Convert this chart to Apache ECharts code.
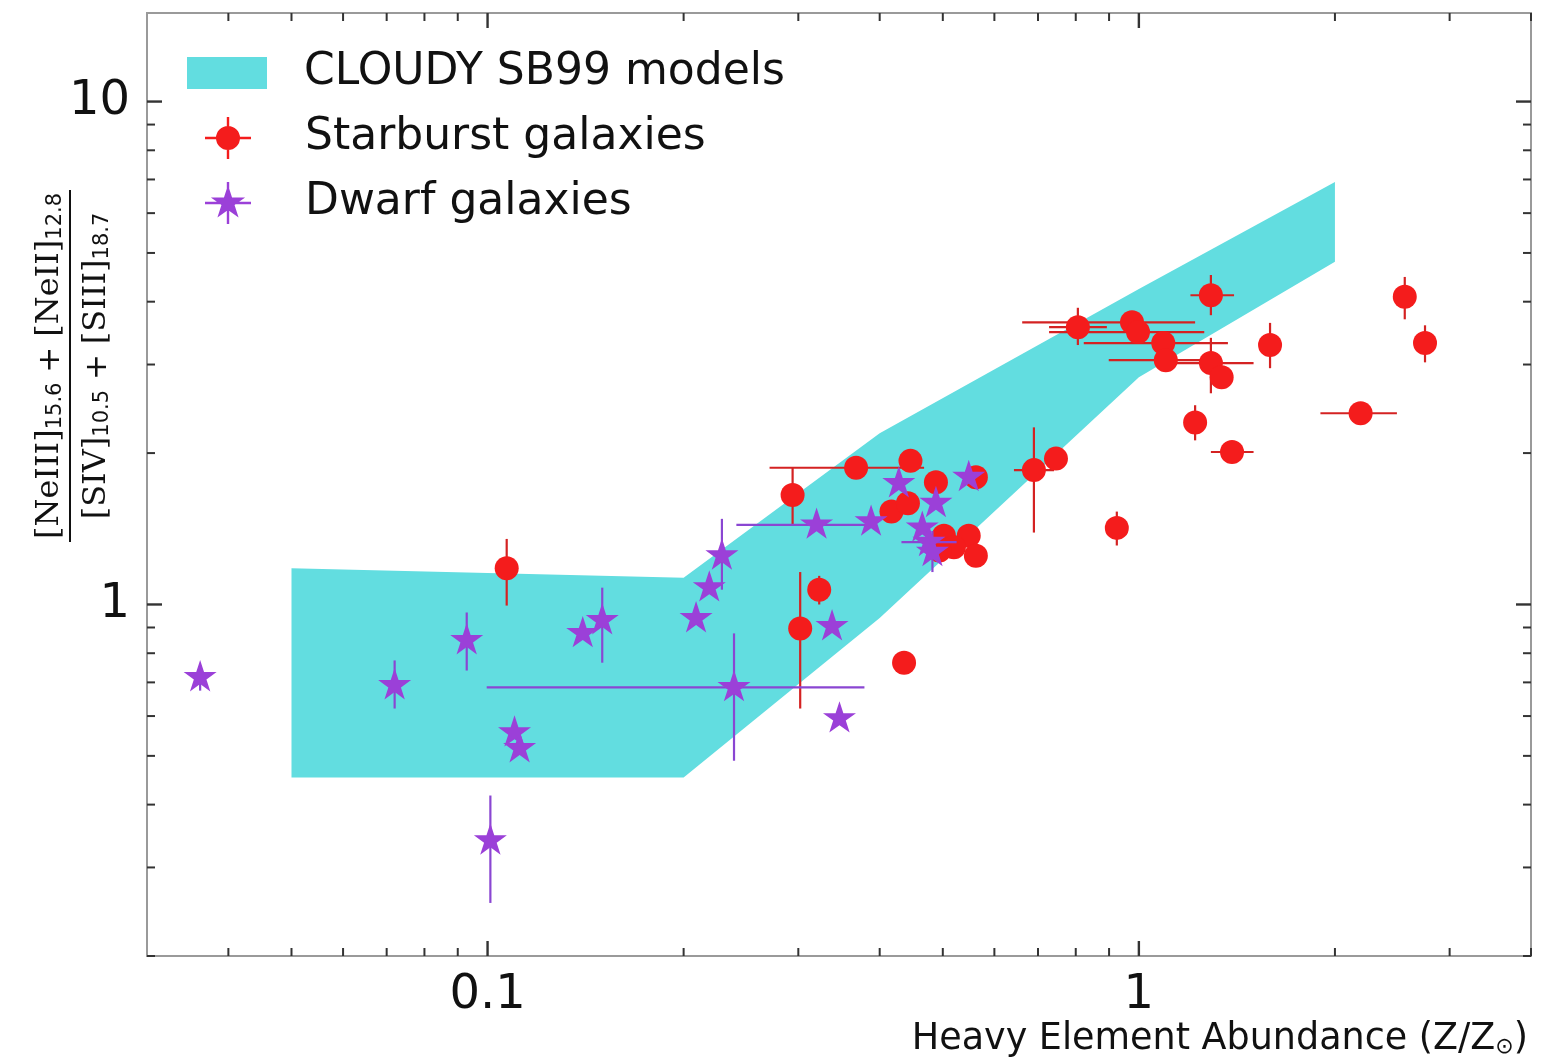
<!DOCTYPE html>
<html>
<head>
<meta charset="utf-8">
<title>[NeIII]+[NeII] / [SIV]+[SIII] vs heavy element abundance</title>
<script src="https://cdn.jsdelivr.net/npm/echarts@6/dist/echarts.min.js"></script>
<style>
  html, body { margin: 0; padding: 0; background: #ffffff; }
  #chart { width: 1554px; height: 1057px; }
</style>
</head>
<body>
<div id="chart"></div>
<script>
// Axis ranges (both axes logarithmic)
const X_MIN = 0.03, X_MAX = 4;
const Y_MIN = 0.2, Y_MAX = 15;

// CLOUDY SB99 model envelope: metallicity grid with upper / lower ratio bounds
const bandX     = [0.05, 0.2, 0.4, 1, 2];
const bandUpper = [1.18, 1.13, 2.19, 4.24, 6.92];
const bandLower = [0.453, 0.453, 0.94, 2.83, 4.80];

// Starburst galaxies: [Z/Zsun, ratio, xLow, xHigh, yLow, yHigh]
const starburst = [
  [0.107, 1.18, null, null, 0.995, 1.35],
  [0.294, 1.65, null, null, 1.44, 1.87],
  [0.368, 1.87, 0.271, 0.468, null, null],
  [0.446, 1.93, null, null, null, null],
  [0.488, 1.75, null, null, null, null],
  [0.562, 1.79, null, null, null, null],
  [0.417, 1.53, null, null, null, null],
  [0.442, 1.59, null, null, null, null],
  [0.323, 1.07, null, null, 1.00, 1.14],
  [0.302, 0.896, null, null, 0.621, 1.16],
  [0.436, 0.766, null, null, null, null],
  [0.690, 1.85, 0.643, 0.741, 1.39, 2.25],
  [0.746, 1.95, null, null, null, null],
  [0.502, 1.37, null, null, null, null],
  [0.548, 1.37, null, null, null, null],
  [0.520, 1.30, null, null, null, null],
  [0.562, 1.25, null, null, null, null],
  [0.494, 1.28, null, null, null, null],
  [0.925, 1.42, null, null, 1.31, 1.53],
  [0.806, 3.56, 0.728, 0.893, 3.28, 3.89],
  [0.976, 3.64, 0.662, 1.22, null, null],
  [0.997, 3.48, 0.728, 1.26, null, null],
  [1.09, 3.31, 0.823, 1.37, null, null],
  [1.10, 3.06, 0.899, 1.33, null, null],
  [1.29, 4.12, 1.20, 1.40, 3.76, 4.52],
  [1.29, 3.02, 1.12, 1.50, 2.63, 3.39],
  [1.34, 2.83, null, null, null, null],
  [1.22, 2.30, null, null, 2.12, 2.49],
  [1.39, 2.01, 1.29, 1.50, null, null],
  [1.59, 3.28, null, null, 2.95, 3.63],
  [2.19, 2.40, 1.90, 2.49, null, null],
  [2.56, 4.09, null, null, 3.69, 4.48],
  [2.75, 3.31, null, null, 3.03, 3.59]
];

// Dwarf galaxies: [Z/Zsun, ratio, xLow, xHigh, yLow, yHigh]
const dwarf = [
  [0.0362, 0.716, null, null, 0.674, 0.756],
  [0.072, 0.690, null, null, 0.621, 0.774],
  [0.0929, 0.848, null, null, 0.739, 0.964],
  [0.140, 0.876, null, null, null, null],
  [0.150, 0.929, null, null, 0.766, 1.08],
  [0.110, 0.556, null, null, null, null],
  [0.112, 0.517, null, null, null, null],
  [0.101, 0.339, null, null, 0.255, 0.417],
  [0.209, 0.938, null, null, null, null],
  [0.219, 1.08, null, null, null, null],
  [0.229, 1.25, null, null, 1.07, 1.48],
  [0.239, 0.684, 0.0997, 0.379, 0.489, 0.876],
  [0.320, 1.44, 0.241, 0.390, null, null],
  [0.338, 0.904, null, null, null, null],
  [0.347, 0.593, null, null, null, null],
  [0.388, 1.46, null, null, null, null],
  [0.428, 1.74, null, null, null, null],
  [0.465, 1.42, null, null, null, null],
  [0.488, 1.59, null, null, null, null],
  [0.476, 1.33, 0.432, 0.525, null, null],
  [0.482, 1.27, null, null, 1.16, 1.40],
  [0.548, 1.79, null, null, null, null]
];

// Tick positions
const xMajorTicks = [0.1, 1];
const xMinorTicks = [0.04, 0.05, 0.06, 0.07, 0.08, 0.09, 0.2, 0.3, 0.4, 0.5, 0.6, 0.7, 0.8, 0.9, 2, 3, 4];
const yMajorTicks = [1, 10];
const yMinorTicks = [0.2, 0.3, 0.4, 0.5, 0.6, 0.7, 0.8, 0.9, 2, 3, 4, 5, 6, 7, 8, 9];

const BAND = '#62dde0';
const RED = '#f41c1c';
const RED_BAR = '#d42222';
const PURPLE = '#9b40d8';
const PURPLE_BAR = '#8a46d2';

const STAR_PATH = 'path://M0,-100L22.45,-30.9L95.11,-30.9L36.33,11.8L58.78,80.9L0,38.2L-58.78,80.9L-36.33,11.8L-95.11,-30.9L-22.45,-30.9Z';
const LEGEND_BAND = 'path://M0,0H80V32H0Z';
const LEGEND_CIRCLE = 'path://M-12,0A12,12 0 1,1 12,0A12,12 0 1,1 -12,0Z' +
  'M-23,-1.2H23V1.2H-23Z M-1.2,-21H1.2V21H-1.2Z';
const LEGEND_STAR = 'path://M0,-18L4.04,-5.56L17.12,-5.56L6.54,2.12L10.58,14.56L0,6.88L-10.58,14.56L-6.54,2.12L-17.12,-5.56L-4.04,-5.56Z' +
  'M-23,-1.2H23V1.2H-23Z M-1.2,-21H1.2V21H-1.2Z';

function decadeLabel(v) {
  const k = Math.log10(v);
  if (Math.abs(k - Math.round(k)) > 1e-6) return '';
  const e = Math.round(k);
  return e < 0 ? Math.pow(10, e).toFixed(-e) : String(Math.pow(10, e));
}

// Inward ticks on all four sides of the frame
function tickSeries(name, values, isX, len, width) {
  return {
    type: 'custom', name, silent: true, clip: false, z: 6,
    data: values.map(v => isX ? [v, Y_MIN] : [X_MIN, v]),
    renderItem(params, api) {
      const v = api.value(isX ? 0 : 1);
      const a = api.coord(isX ? [v, Y_MIN] : [X_MIN, v]);
      const b = api.coord(isX ? [v, Y_MAX] : [X_MAX, v]);
      const style = { stroke: '#333333', lineWidth: width };
      if (isX) {
        return { type: 'group', children: [
          { type: 'line', shape: { x1: a[0], y1: a[1], x2: a[0], y2: a[1] - len }, style },
          { type: 'line', shape: { x1: b[0], y1: b[1], x2: b[0], y2: b[1] + len }, style }
        ] };
      }
      return { type: 'group', children: [
        { type: 'line', shape: { x1: a[0], y1: a[1], x2: a[0] + len, y2: a[1] }, style },
        { type: 'line', shape: { x1: b[0], y1: b[1], x2: b[0] - len, y2: b[1] }, style }
      ] };
    }
  };
}

// Horizontal / vertical error bars (no caps)
function errorBarSeries(name, rows, color, z) {
  return {
    type: 'custom', name, silent: true, z,
    data: rows.map(r => [r[0], r[1]]),
    renderItem(params, api) {
      const r = rows[params.dataIndex];
      const style = { stroke: color, lineWidth: 2.2 };
      const children = [];
      if (r[2] != null) {
        const p1 = api.coord([r[2], r[1]]), p2 = api.coord([r[3], r[1]]);
        children.push({ type: 'line', shape: { x1: p1[0], y1: p1[1], x2: p2[0], y2: p2[1] }, style });
      }
      if (r[4] != null) {
        const p1 = api.coord([r[0], r[4]]), p2 = api.coord([r[0], r[5]]);
        children.push({ type: 'line', shape: { x1: p1[0], y1: p1[1], x2: p2[0], y2: p2[1] }, style });
      }
      return { type: 'group', children };
    }
  };
}

const legendText = { fontSize: 44, color: '#111111', fontFamily: 'DejaVu Sans' };
function legendFor(name, icon, h, left, top) {
  return {
    data: [{ name, icon }], selectedMode: false, orient: 'vertical',
    left, top, padding: 0, itemWidth: 144, itemHeight: h,
    textStyle: legendText
  };
}

const axisLabelStyle = { fontSize: 48, color: '#111111', fontFamily: 'DejaVu Sans', formatter: decadeLabel };
const subRich = {
  m: { fontSize: 32, fontFamily: 'DejaVu Serif', fill: '#111', lineHeight: 38, verticalAlign: 'bottom' },
  p: { fontSize: 31, fontFamily: 'DejaVu Sans', fill: '#111', lineHeight: 38, verticalAlign: 'bottom' },
  s: { fontSize: 21, fontFamily: 'DejaVu Sans', fill: '#111', lineHeight: 19, verticalAlign: 'bottom' }
};

const chart = echarts.init(document.getElementById('chart'), null, { renderer: 'canvas' });
chart.setOption({
  animation: false,
  backgroundColor: '#ffffff',
  grid: {
    left: 147, top: 13, right: 23, bottom: 101,
    containLabel: false, outerBoundsMode: 'none',
    show: true, borderColor: '#9a9a9a', borderWidth: 2, backgroundColor: 'transparent'
  },
  xAxis: {
    type: 'log', logBase: 10, min: X_MIN, max: X_MAX,
    axisLine: { show: false }, axisTick: { show: false },
    splitLine: { show: false }, minorTick: { show: false }, minorSplitLine: { show: false },
    axisLabel: Object.assign({ margin: 16 }, axisLabelStyle)
  },
  yAxis: {
    type: 'log', logBase: 10, min: Y_MIN, max: Y_MAX,
    axisLine: { show: false }, axisTick: { show: false },
    splitLine: { show: false }, minorTick: { show: false }, minorSplitLine: { show: false },
    axisLabel: Object.assign({ margin: 17 }, axisLabelStyle)
  },
  legend: [
    legendFor('CLOUDY SB99 models', LEGEND_BAND, 32, 187, 51),
    legendFor('Starburst galaxies', LEGEND_CIRCLE, 42, 205, 116),
    legendFor('Dwarf galaxies', LEGEND_STAR, 42, 205, 181)
  ],
  graphic: [
    {
      type: 'group', x: 70, y: 366, rotation: Math.PI / 2,
      children: [
        {
          type: 'text', x: 0, y: -4,
          style: {
            text: '{m|[NeIII]}{s|15.6}{p| + }{m|[NeII]}{s|12.8}',
            align: 'center', verticalAlign: 'bottom', rich: subRich
          }
        },
        { type: 'line', shape: { x1: -176, y1: 0, x2: 176, y2: 0 }, style: { stroke: '#111', lineWidth: 2 } },
        {
          type: 'text', x: 0, y: 5,
          style: {
            text: '{m|[SIV]}{s|10.5}{p| + }{m|[SIII]}{s|18.7}',
            align: 'center', verticalAlign: 'top', rich: subRich
          }
        }
      ]
    },
    {
      type: 'text', x: 1528, y: 1036,
      style: {
        text: '{t|Heavy Element Abundance (Z/Z}{s|⊙}{t|)}',
        align: 'right', verticalAlign: 'middle',
        rich: {
          t: { fontSize: 36.5, fontFamily: 'DejaVu Sans', fill: '#111', lineHeight: 44, verticalAlign: 'bottom' },
          s: { fontSize: 22, fontFamily: 'DejaVu Sans', fill: '#111', lineHeight: 14, verticalAlign: 'bottom' }
        }
      }
    }
  ],
  series: [
    {
      type: 'custom', name: 'CLOUDY SB99 models', z: 1, silent: true,
      itemStyle: { color: BAND },
      data: [[bandX[0], bandLower[0]]],
      renderItem(params, api) {
        const pts = [];
        for (let i = 0; i < bandX.length; i++) pts.push(api.coord([bandX[i], bandUpper[i]]));
        for (let i = bandX.length - 1; i >= 0; i--) pts.push(api.coord([bandX[i], bandLower[i]]));
        return { type: 'polygon', shape: { points: pts }, style: { fill: BAND } };
      }
    },
    errorBarSeries('starburst-errors', starburst, RED_BAR, 2),
    {
      type: 'scatter', name: 'Starburst galaxies', z: 3,
      data: starburst.map(r => [r[0], r[1]]),
      symbol: 'circle', symbolSize: 24,
      itemStyle: { color: RED, opacity: 1 }
    },
    errorBarSeries('dwarf-errors', dwarf, PURPLE_BAR, 4),
    {
      type: 'scatter', name: 'Dwarf galaxies', z: 5,
      data: dwarf.map(r => [r[0], r[1]]),
      symbol: STAR_PATH, symbolSize: 33, symbolKeepAspect: true, symbolOffset: [0, '-5.3%'],
      itemStyle: { color: PURPLE, opacity: 1 }
    },
    tickSeries('x-major-ticks', xMajorTicks, true, 15, 2.4),
    tickSeries('x-minor-ticks', xMinorTicks, true, 8, 2),
    tickSeries('y-major-ticks', yMajorTicks, false, 15, 2.4),
    tickSeries('y-minor-ticks', yMinorTicks, false, 8, 2)
  ]
});
</script>
</body>
</html>
